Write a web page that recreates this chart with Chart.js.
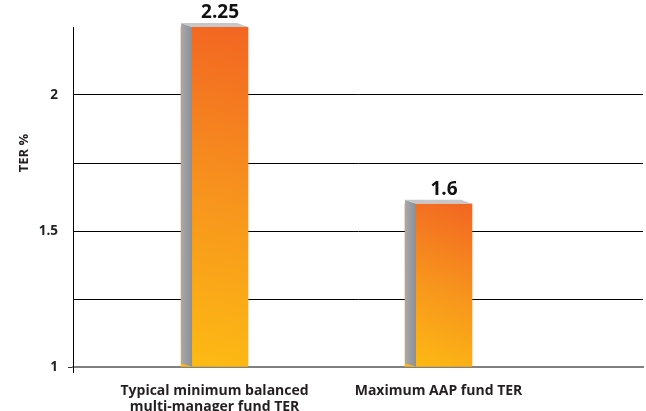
<!DOCTYPE html>
<html><head><meta charset="utf-8">
<script src="https://cdn.jsdelivr.net/npm/chart.js@4.4.1/dist/chart.umd.min.js"></script>
<style>html,body{margin:0;padding:0;background:#fff}</style>
</head><body>
<canvas id="c" width="646" height="411" style="display:block"></canvas>
<script>
const categories = [["Typical minimum balanced", "multi-manager fund TER"], ["Maximum AAP fund TER"]];
const positions = [1, 2];
const terValues = [2.25, 1.6];
const valueLabels = ["2.25", "1.6"];
const yTickLabels = {"1": "1", "1.5": "1.5", "2": "2"};
const yAxisTitle = "TER %";

const FONT = "'Open Sans', 'DejaVu Sans', sans-serif";
const SIDE = 11, DEPTH = 4;

function frontGradient(ctx) {
  const chart = ctx.chart;
  if (!chart.chartArea || !ctx.raw) return '#f7941d';
  const ys = chart.scales.y, xs = chart.scales.x;
  const top = ys.getPixelForValue(ctx.raw.y), base = ys.getPixelForValue(ys.min);
  const cx = xs.getPixelForValue(ctx.raw.x);
  const g = chart.ctx.createLinearGradient(cx + 34, top, cx - 34, base);
  g.addColorStop(0, '#f26522');
  g.addColorStop(0.5, '#f7941d');
  g.addColorStop(1, '#fdbb13');
  return g;
}

const bar3d = {
  id: 'bar3d',
  afterDatasetsDraw(chart) {
    const c = chart.ctx;
    const meta = chart.getDatasetMeta(0);
    meta.data.forEach((el, i) => {
      const p = el.getProps(['x', 'y', 'base', 'width'], true);
      const L = p.x - p.width / 2, R = p.x + p.width / 2, y = p.y, b = p.base;
      c.save();
      const sg = c.createLinearGradient(L, y, L + SIDE, y);
      sg.addColorStop(0, '#a7a9ac');
      sg.addColorStop(1, '#8d8f92');
      c.fillStyle = sg;
      c.beginPath();
      c.moveTo(L + SIDE, y); c.lineTo(L, y - DEPTH); c.lineTo(L, b - 3); c.lineTo(L + SIDE, b);
      c.closePath(); c.fill();
      c.fillStyle = '#c6c7c9';
      c.beginPath();
      c.moveTo(L + SIDE, y); c.lineTo(R, y); c.lineTo(R - SIDE, y - DEPTH); c.lineTo(L, y - DEPTH);
      c.closePath(); c.fill();
      c.fillStyle = '#111';
      c.font = "bold 19px " + FONT;
      c.textAlign = 'center';
      c.textBaseline = 'alphabetic';
      c.fillText(valueLabels[i], p.x + SIDE / 2, y - DEPTH - 5);
      c.restore();
    });
    // y-axis title and small axis extension below the baseline
    const a = chart.chartArea;
    c.save();
    c.strokeStyle = '#000'; c.lineWidth = 1;
    c.beginPath(); c.moveTo(Math.round(a.left) + 0.5, a.bottom); c.lineTo(Math.round(a.left) + 0.5, a.bottom + 6); c.stroke();
    c.translate(24, 153);
    c.rotate(-Math.PI / 2);
    c.fillStyle = '#231f20';
    c.font = "bold 13px " + FONT;
    c.textAlign = 'center';
    c.textBaseline = 'middle';
    c.fillText(yAxisTitle, 0, 0);
    c.restore();
  }
};

new Chart(document.getElementById('c'), {
  type: 'bar',
  data: {
    datasets: [{
      data: positions.map((x, i) => ({x: x, y: terValues[i]})),
      backgroundColor: frontGradient,
      borderWidth: 0,
      barThickness: 67,
      base: 1
    }]
  },
  options: {
    responsive: false,
    animation: false,
    devicePixelRatio: 1,
    layout: {padding: {top: 27, right: 3, left: 0, bottom: 0}},
    plugins: {legend: {display: false}, tooltip: {enabled: false}},
    scales: {
      x: {
        type: 'linear',
        offset: false,
        min: 0.368,
        max: 2.913,
        afterBuildTicks: s => { s.ticks = positions.map(v => ({value: v})); },
        afterFit: s => { s.height = 44; },
        grid: {display: false, drawTicks: false, offset: false},
        border: {display: true, color: '#808080', width: 2},
        ticks: {
          autoSkip: false, maxRotation: 0, padding: 16,
          color: '#231f20',
          font: {family: FONT, size: 14, weight: 'bold', lineHeight: 1.15},
          callback: v => categories[positions.indexOf(v)]
        }
      },
      y: {
        min: 1,
        max: 2.25,
        afterFit: s => { s.width = 73; },
        ticks: {
          stepSize: 0.25,
          padding: 10,
          color: '#231f20',
          font: {family: FONT, size: 13.5, weight: 'bold'},
          callback: v => yTickLabels[String(v)] || ''
        },
        grid: {
          color: ctx => (ctx.tick && (ctx.tick.value === 1 || ctx.tick.value === 2.25)) ? 'rgba(0,0,0,0)' : '#000',
          lineWidth: 1,
          tickLength: 5,
          tickColor: ctx => (ctx.tick && ctx.tick.value === 1) ? '#333' : 'rgba(0,0,0,0)'
        },
        border: {display: true, color: '#000', width: 1},
        title: {display: false}
      }
    }
  },
  plugins: [bar3d]
});
</script>
</body></html>
